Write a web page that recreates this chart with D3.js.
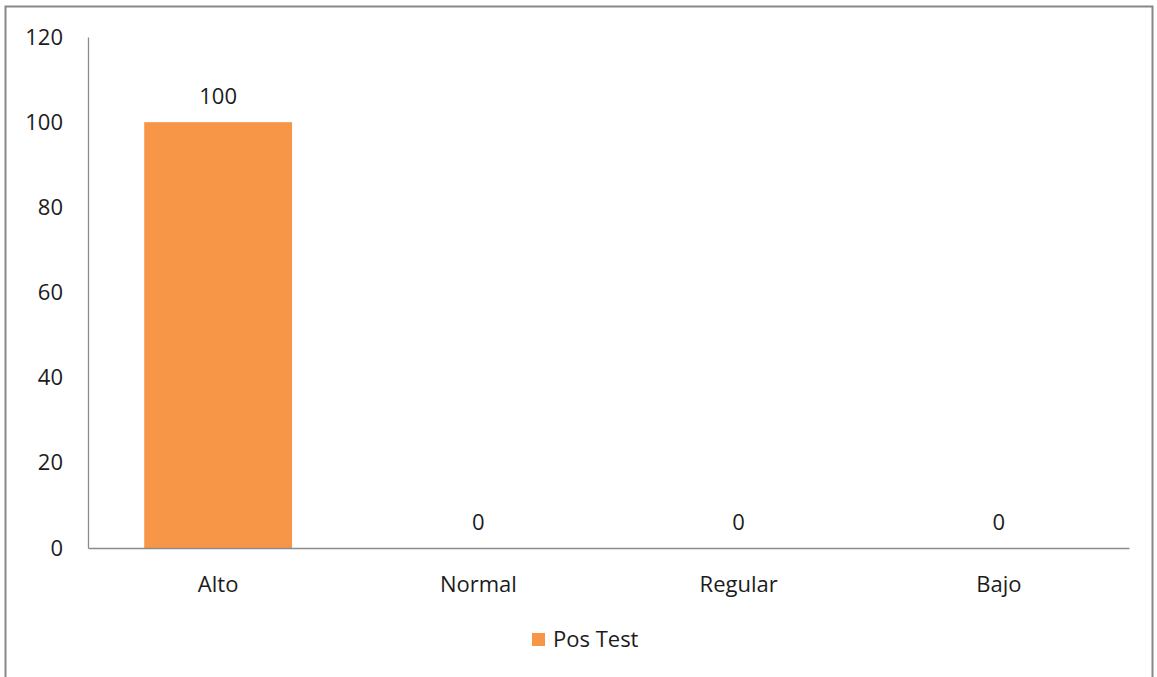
<!DOCTYPE html>
<html>
<head>
<meta charset="utf-8">
<script src="https://cdn.jsdelivr.net/npm/d3@7"></script>
<style>
  html, body { margin: 0; padding: 0; background: #ffffff; }
  svg { display: block; }
  text { font-family: "Open Sans", "DejaVu Sans", sans-serif; fill: #1c1c1c; }
</style>
</head>
<body>
<svg id="chart" width="1157" height="677"></svg>
<script>
// Chart data
const categories = ["Alto", "Normal", "Regular", "Bajo"];
const posTest = [100, 0, 0, 0];
const yTicks = [0, 20, 40, 60, 80, 100, 120];
const seriesName = "Pos Test";

const W = 1157, H = 677;
const margin = { left: 88, right: 28, top: 37, bottom: 129 };
const fontSize = 22;
const barColor = "#F79646";
const axisColor = "#8c8c8c";
const fontFamily = "'Open Sans', 'DejaVu Sans', sans-serif";

const svg = d3.select("#chart");

// Outer chart frame (open at the bottom)
svg.append("path")
  .attr("d", `M5.5,${H} L5.5,6.5 L1152.5,6.5 L1152.5,${H}`)
  .attr("fill", "none")
  .attr("stroke", "#878787")
  .attr("stroke-width", 2);

const x = d3.scaleBand()
  .domain(categories)
  .range([margin.left, W - margin.right])
  .paddingInner(0.432)
  .paddingOuter(0.216);

const y = d3.scaleLinear()
  .domain([0, 120])
  .range([H - margin.bottom, margin.top]);

// Y axis
const yAxis = svg.append("g")
  .attr("transform", `translate(${margin.left},0)`)
  .call(d3.axisLeft(y).tickValues(yTicks).tickSize(0).tickPadding(25));
yAxis.select(".domain").attr("stroke", axisColor).attr("stroke-width", 1.3);
yAxis.selectAll("text")
  .attr("font-size", fontSize)
  .attr("font-family", fontFamily)
  .attr("fill", "#1c1c1c");

// Bars
svg.append("g")
  .selectAll("rect")
  .data(categories)
  .join("rect")
  .attr("x", d => x(d))
  .attr("width", x.bandwidth())
  .attr("y", (d, i) => y(posTest[i]))
  .attr("height", (d, i) => y(0) - y(posTest[i]))
  .attr("fill", barColor);

// X axis (drawn over bars)
const xAxis = svg.append("g")
  .attr("transform", `translate(0,${y(0)})`)
  .call(d3.axisBottom(x).tickSize(0).tickPadding(28).tickSizeOuter(0));
xAxis.select(".domain").attr("stroke", axisColor).attr("stroke-width", 1.3);
xAxis.selectAll("text")
  .attr("font-size", fontSize)
  .attr("font-family", fontFamily)
  .attr("fill", "#1c1c1c");

// Value labels
svg.append("g")
  .selectAll("text")
  .data(categories)
  .join("text")
  .attr("x", d => x(d) + x.bandwidth() / 2)
  .attr("y", (d, i) => y(posTest[i]) - 18)
  .attr("text-anchor", "middle")
  .attr("font-size", fontSize)
  .text((d, i) => posTest[i]);

// Legend
const legend = svg.append("g").attr("transform", "translate(532,633)");
legend.append("rect")
  .attr("width", 13).attr("height", 13)
  .attr("fill", barColor);
legend.append("text")
  .attr("x", 21).attr("y", 14)
  .attr("font-size", fontSize)
  .text(seriesName);
</script>
</body>
</html>
